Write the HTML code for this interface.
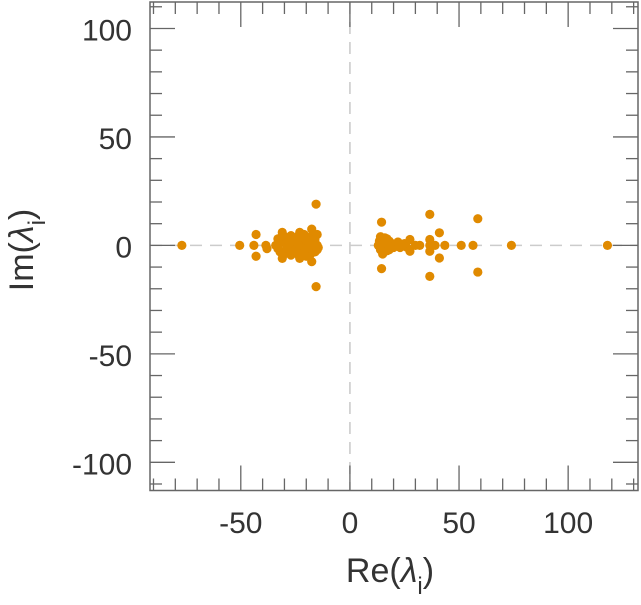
<!DOCTYPE html>
<html><head><meta charset="utf-8"><style>
body{margin:0;background:#fff;}
svg text{font-family:"Liberation Sans",sans-serif;fill:#333;}
</style></head><body>
<svg id="chart" width="641" height="600" viewBox="0 0 641 600" xmlns="http://www.w3.org/2000/svg">
<g id="grid"></g><g id="pts"></g><g id="axes"></g>
<text x="390" y="582" font-size="34" text-anchor="middle">Re(<tspan font-style="italic">λ</tspan><tspan font-size="24" dy="12">i</tspan><tspan dy="-12">)</tspan></text>
<text transform="translate(33,250) rotate(-90)" font-size="34" text-anchor="middle">Im(<tspan font-style="italic">λ</tspan><tspan font-size="24" dy="12">i</tspan><tspan dy="-12">)</tspan></text>
</svg>
<script>
const xTicks=[-50,0,50,100];
const yTicks=[-100,-50,0,50,100];
const reVals=[-77,-50.5,-43,-43,-44,-38.5,-38,-31,-31,-23,-23,-17.5,-17.5,-15.5,-15.5,
-34,-33,-32,-31,-30,-30,-29,-28,-28,-27,-26,-26,-25,-24,-24,-23,-22,-22,-21,-20,-20,-19,-18,-18,-17,-16,-16,-15,-15,-14.5,-33,-29,-27,-25,-21,-19,-17,-15,-31,-27,-23,-19,-16,-24,-20,
14.5,14.5,36.6,36.6,41,41,58.6,58.6,74,56.4,51,43.5,118,
13,13.5,14,14,15,15,16,16,17,17,18,18,19,19,20,21,22,23,24,25,26,14,15,16,17,18,20,22,27.5,27.5,32,36.6,36.6,36.6,39,30,24];
const imVals=[0,0,5,-5,0,0,-1.5,6,-6,6,-6,7.5,-7.5,19,-19,
0,3,-3,1.5,4,-4,0,2,-2,4.5,0,-3,2,4,-4,1,-1.5,3,5,0,-5,2,4,-4,1,3,-3,0,5,-1,-1.5,-1,1.5,-2,-3,3,-1.5,-2,4.5,-4.5,-4,-1,1.5,1,2.5,
10.7,-10.7,14.3,-14.3,5.8,-5.8,12.3,-12.3,0,0,0,0,0,
0,2,-2,4,0,-3,1.5,-1.5,3,-2.5,0,2,-1,1,0,0,1.5,-1,0,0.8,-0.8,0,-4,3.5,1,-2,-1,1.5,2.7,-2.7,0,2.7,-2.7,0,0,0,0];
const xmin=-91.6,xmax=132,ymin=-113,ymax=112.2;
const L=150,R=638,T=2,B=490.5;
const sx=v=>L+(v-xmin)/(xmax-xmin)*(R-L);
const sy=v=>B-(v-ymin)/(ymax-ymin)*(B-T);
const NS="http://www.w3.org/2000/svg";
function mk(t,a,p){const e=document.createElementNS(NS,t);for(const k in a)e.setAttribute(k,a[k]);p.appendChild(e);return e;}
const grid=document.getElementById('grid'),pts=document.getElementById('pts'),axes=document.getElementById('axes');
let z=mk('line',{x1:sx(0),x2:sx(0),y1:T,y2:B,stroke:'#ccc','stroke-width':1.6,'stroke-dasharray':'12,8'},grid);


z=mk('line',{x1:L,x2:R,y1:sy(0),y2:sy(0),stroke:'#ccc','stroke-width':1.6,'stroke-dasharray':'12,8'},grid);


for(let i=0;i<reVals.length;i++){
const c=mk('circle',{cx:sx(reVals[i]),cy:sy(imVals[i]),r:4.6,fill:'#e08a00'},pts);


}
const fr=mk('rect',{x:L,y:T,width:R-L,height:B-T,fill:'none',stroke:'#666','stroke-width':1.5},axes);


for(let v=-90;v<=130;v+=10){const x=sx(v),maj=v%50===0,len=maj?25:12;
mk('line',{x1:x,x2:x,y1:B,y2:B-len,stroke:'#666','stroke-width':1.3},axes);
mk('line',{x1:x,x2:x,y1:T,y2:T+len,stroke:'#666','stroke-width':1.3},axes);}
for(let v=-110;v<=110;v+=10){const y=sy(v),maj=v%50===0,len=maj?25:12;
mk('line',{x1:L,x2:L+len,y1:y,y2:y,stroke:'#666','stroke-width':1.3},axes);
mk('line',{x1:R,x2:R-len,y1:y,y2:y,stroke:'#666','stroke-width':1.3},axes);}
xTicks.forEach(v=>{const t=mk('text',{x:sx(v),y:533,'font-size':30,'text-anchor':'middle'},axes);t.textContent=v;

});
yTicks.forEach(v=>{const t=mk('text',{x:132,y:sy(v)+12,'font-size':30,'text-anchor':'end'},axes);t.textContent=v;

});
</script>
</body></html>
